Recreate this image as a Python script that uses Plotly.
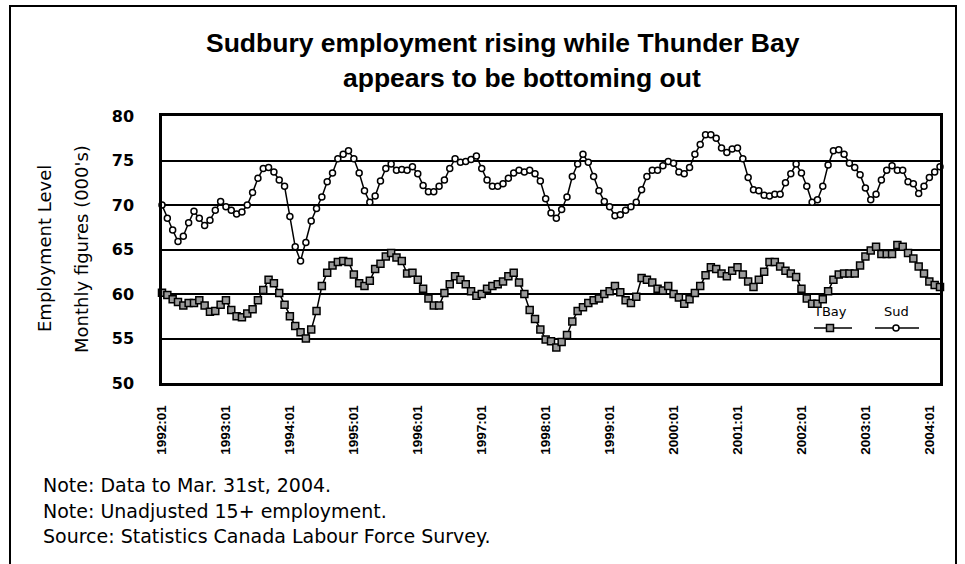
import plotly.graph_objects as go

# monthly categories 1992:01 .. 2004:03
months = [f"{y}:{m:02d}" for y in range(1992, 2005) for m in range(1, 13)][:147]
tick_labels = months[::12]

# employment level, thousands
tbay = [
    60.15, 59.9, 59.4, 59.1, 58.7, 59.0, 59.0, 59.3, 58.7, 58.0, 58.1, 58.8,
    59.3, 58.2, 57.5, 57.4, 57.8, 58.3, 59.3, 60.45, 61.6, 61.2, 60.1, 58.8,
    57.5, 56.4, 55.7, 55.0, 56.0, 58.1, 60.9, 62.4, 63.2, 63.6, 63.7, 63.6,
    62.2, 61.2, 60.9, 61.5, 62.8, 63.4, 64.2, 64.6, 64.1, 63.7, 62.3, 62.4,
    61.6, 60.6, 59.5, 58.7, 58.7, 60.1, 61.1, 62.0, 61.6, 61.1, 60.3, 59.8,
    60.0, 60.6, 60.9, 61.1, 61.4, 62.0, 62.4, 61.3, 60.0, 58.2, 57.2, 56.0,
    54.9, 54.7, 54.0, 54.6, 55.4, 56.9, 58.1, 58.5, 59.0, 59.3, 59.5, 60.0,
    60.3, 60.9, 60.2, 59.3, 59.0, 59.7, 61.8, 61.6, 61.3, 60.6, 60.4, 60.9,
    60.0, 59.6, 58.9, 59.4, 60.1, 60.9, 62.1, 63.0, 62.8, 62.3, 62.0, 62.6,
    63.0, 62.2, 61.4, 60.8, 61.6, 62.5, 63.6, 63.6, 63.1, 62.6, 62.3, 61.9,
    60.6, 59.5, 58.9, 58.9, 59.4, 60.3, 61.6, 62.2, 62.3, 62.3, 62.3, 63.2,
    64.2, 64.9, 65.3, 64.5, 64.5, 64.5, 65.5, 65.3, 64.6, 64.0, 63.1, 62.3,
    61.4, 61.0, 60.8,
]
sud = [
    70.0, 68.5, 67.2, 65.9, 66.5, 68.0, 69.3, 68.5, 67.7, 68.3, 69.4, 70.4,
    69.8, 69.4, 69.0, 69.2, 70.0, 71.4, 73.0, 74.1, 74.2, 73.7, 72.8, 72.1,
    68.7, 65.3, 63.7, 65.8, 68.2, 69.6, 70.9, 72.6, 73.6, 75.2, 75.7, 76.1,
    75.2, 73.6, 71.6, 70.3, 71.0, 72.7, 74.1, 74.6, 73.9, 74.0, 73.9, 74.3,
    73.5, 72.2, 71.5, 71.5, 72.1, 72.8, 74.1, 75.2, 74.8, 74.9, 75.1, 75.5,
    74.1, 72.8, 72.1, 72.1, 72.4, 73.0, 73.6, 73.9, 73.7, 73.9, 73.5, 72.7,
    70.7, 69.1, 68.5, 69.5, 70.9, 73.2, 74.6, 75.7, 74.8, 73.2, 71.6, 70.4,
    69.8, 68.8, 68.9, 69.4, 69.8, 70.3, 71.7, 73.2, 73.9, 73.9, 74.4, 74.9,
    74.7, 73.7, 73.5, 74.2, 75.7, 76.8, 77.9, 77.9, 77.5, 76.4, 75.9, 76.3,
    76.4, 75.2, 73.1, 71.7, 71.6, 71.1, 71.0, 71.2, 71.2, 72.5, 73.5, 74.6,
    73.6, 72.1, 70.3, 70.6, 72.1, 74.5, 76.1, 76.2, 75.7, 74.7, 74.2, 73.4,
    71.9, 70.6, 71.2, 72.8, 73.9, 74.4, 73.9, 73.9, 72.6, 72.4, 71.3, 72.1,
    73.1, 73.7, 74.3,
]

title_lines = ["Sudbury employment rising while Thunder Bay",
               "appears to be bottoming out"]
y_title_lines = ["Employment Level", "Monthly figures (000's)"]
notes = ["Note: Data to Mar. 31st, 2004.",
         "Note: Unadjusted 15+ employment.",
         "Source: Statistics Canada Labour Force Survey."]

W, H = 965, 564
L, R, T, B = 162, 25, 116, 181
PW, PH = W - L - R, H - T - B


def px(x):
    return (x - L) / PW


def py(y):
    return (H - B - y) / PH


SANS = "DejaVu Sans"
ARIAL = "Liberation Sans, Arial"

fig = go.Figure()
fig.add_trace(go.Scatter(
    x=months, y=tbay, name="TBay", mode="lines+markers", cliponaxis=False,
    line=dict(color="black", width=1.5),
    marker=dict(symbol="square", size=7, color="#9a9a9a",
                line=dict(color="black", width=1.5)),
))
fig.add_trace(go.Scatter(
    x=months, y=sud, name="Sud", mode="lines+markers", cliponaxis=False,
    line=dict(color="black", width=1.5),
    marker=dict(symbol="circle", size=6, color="white",
                line=dict(color="black", width=1.5)),
))

ann = []
ann.append(dict(text=f"<b>{title_lines[0]}</b>", x=px(503), y=py(43)))
ann.append(dict(text=f"<b>{title_lines[1]}</b>", x=px(522), y=py(78)))
for a in ann:
    a.update(xref="paper", yref="paper", showarrow=False,
             xanchor="center", yanchor="middle",
             font=dict(family=ARIAL, size=26.5, color="black"))

for i, t in enumerate(y_title_lines):
    ann.append(dict(text=t, x=px(44 + 37 * i), y=py(249), xref="paper", yref="paper",
                    textangle=-90, showarrow=False, xanchor="center", yanchor="middle",
                    font=dict(family=SANS, size=18, color="black")))

for i, t in enumerate(notes):
    ann.append(dict(text=t, x=px(41), y=py(485 + 25.5 * i), xref="paper", yref="paper",
                    xanchor="left", yanchor="middle", showarrow=False,
                    font=dict(family=SANS, size=19, color="black")))

# hand-made legend: name above a line sample
for name, cx in [("TBay", 830), ("Sud", 896)]:
    ann.append(dict(text=name, x=px(cx), y=py(311), xref="paper", yref="paper",
                    xanchor="center", yanchor="middle", showarrow=False,
                    font=dict(family=SANS, size=13, color="black")))

shapes = [
    # outer frame
    dict(type="rect", xref="paper", yref="paper", x0=px(10), x1=px(956),
         y0=py(570), y1=py(6), line=dict(color="black", width=2)),
    # legend samples
    dict(type="line", xref="paper", yref="paper", x0=px(814), x1=px(852),
         y0=py(328), y1=py(328), line=dict(color="black", width=1.5)),
    dict(type="rect", xref="paper", yref="paper", x0=px(826.5), x1=px(833.5),
         y0=py(331.5), y1=py(324.5), fillcolor="#9a9a9a",
         line=dict(color="black", width=1.5)),
    dict(type="line", xref="paper", yref="paper", x0=px(875), x1=px(919),
         y0=py(328), y1=py(328), line=dict(color="black", width=1.5)),
    dict(type="circle", xref="paper", yref="paper", x0=px(893), x1=px(899),
         y0=py(331), y1=py(325), fillcolor="white",
         line=dict(color="black", width=1.5)),
]

fig.update_layout(
    width=W, height=H,
    margin=dict(l=L, r=R, t=T, b=B),
    paper_bgcolor="white", plot_bgcolor="white",
    showlegend=False,
    annotations=ann,
    shapes=shapes,
)
fig.update_xaxes(
    type="category", range=[0, 146],
    tickmode="array", tickvals=tick_labels, ticktext=tick_labels,
    tickangle=-90, ticks="", ticklabelstandoff=14,
    tickfont=dict(family=ARIAL, size=13.5, color="black", weight="bold"),
    showgrid=False, zeroline=False,
    showline=True, mirror=True, linecolor="black", linewidth=2.5,
)
fig.update_yaxes(
    range=[50, 80], dtick=5, ticks="", ticklabelstandoff=22,
    tickfont=dict(family=SANS, size=16, color="black", weight="bold"),
    showgrid=True, gridcolor="black", gridwidth=1.5, zeroline=False,
    showline=True, mirror=True, linecolor="black", linewidth=2.5,
)

# the page's default body margin would shift the whole figure
fig.write_html("out.html", config={"displayModeBar": False},
               post_script="document.body.style.margin='0px';")
